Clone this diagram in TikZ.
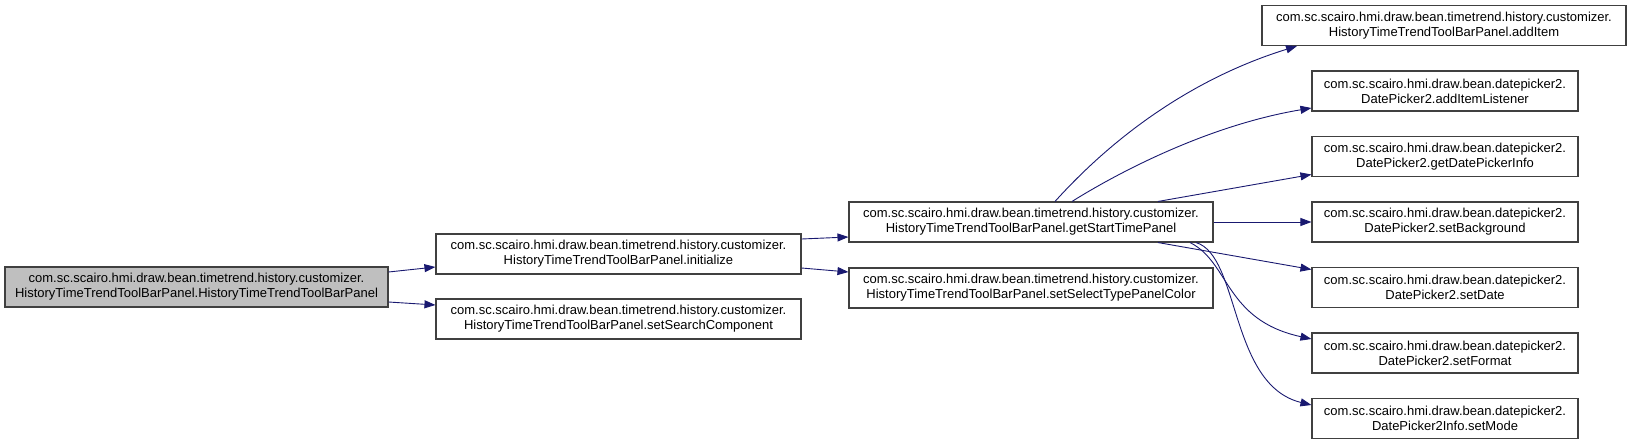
\documentclass[tikz,border=0pt]{standalone}
\usepackage{fontspec}
\setmainfont{Liberation Sans}
\usetikzlibrary{arrows.meta}
\definecolor{edgecol}{HTML}{191970}
\definecolor{boxline}{HTML}{404040}
\definecolor{rootfill}{HTML}{BFBFBF}
\tikzset{
  fn/.style={draw=boxline, line width=1.1pt, fill=white, inner sep=0pt, align=center,
    minimum height=40pt, font=\fontsize{13}{15}\selectfont},
  rootbox/.style={fn, fill=rootfill},
  call/.style={draw=edgecol, line width=0.9pt, -{Triangle[length=11pt,width=8pt]}}
}
\begin{document}
\begin{tikzpicture}[x=1pt,y=-1pt]
\useasboundingbox (0,0) rectangle (1633,444);
\node[rootbox, minimum width=383pt] (A) at (196.5,287) {com.sc.scairo.hmi.draw.bean.timetrend.history.customizer.\\HistoryTimeTrendToolBarPanel.HistoryTimeTrendToolBarPanel};
\node[fn, minimum width=365pt] (B) at (618.5,254) {com.sc.scairo.hmi.draw.bean.timetrend.history.customizer.\\HistoryTimeTrendToolBarPanel.initialize};
\node[fn, minimum width=365pt] (C) at (618.5,319) {com.sc.scairo.hmi.draw.bean.timetrend.history.customizer.\\HistoryTimeTrendToolBarPanel.setSearchComponent};
\node[fn, minimum width=364pt] (D) at (1031,222) {com.sc.scairo.hmi.draw.bean.timetrend.history.customizer.\\HistoryTimeTrendToolBarPanel.getStartTimePanel};
\node[fn, minimum width=364pt] (E) at (1031,288) {com.sc.scairo.hmi.draw.bean.timetrend.history.customizer.\\HistoryTimeTrendToolBarPanel.setSelectTypePanelColor};
\node[fn, minimum width=364pt] (L0) at (1444,25.5) {com.sc.scairo.hmi.draw.bean.timetrend.history.customizer.\\HistoryTimeTrendToolBarPanel.addItem};
\node[fn, minimum width=266pt] (L1) at (1445,91) {com.sc.scairo.hmi.draw.bean.datepicker2.\\DatePicker2.addItemListener};
\node[fn, minimum width=266pt] (L2) at (1445,156.5) {com.sc.scairo.hmi.draw.bean.datepicker2.\\DatePicker2.getDatePickerInfo};
\node[fn, minimum width=266pt] (L3) at (1445,222) {com.sc.scairo.hmi.draw.bean.datepicker2.\\DatePicker2.setBackground};
\node[fn, minimum width=266pt] (L4) at (1445,287.5) {com.sc.scairo.hmi.draw.bean.datepicker2.\\DatePicker2.setDate};
\node[fn, minimum width=266pt] (L5) at (1445,353) {com.sc.scairo.hmi.draw.bean.datepicker2.\\DatePicker2.setFormat};
\node[fn, minimum width=266pt] (L6) at (1445,418.5) {com.sc.scairo.hmi.draw.bean.datepicker2.\\DatePicker2Info.setMode};

\draw[call] ([yshift=15pt]A.east) -- ([yshift=-13pt]B.west);
\draw[call] ([yshift=-15pt]A.east) -- ([yshift=14pt]C.west);
\draw[call] ([yshift=15pt]B.east) -- ([yshift=-15pt]D.west);
\draw[call] ([yshift=-14pt]B.east) -- ([yshift=16pt]E.west);

\draw[call] ([xshift=24pt]D.north) .. controls +(65,-72) and +(-97,30) .. ([xshift=-147pt]L0.south);
\draw[call] ([xshift=41pt]D.north) .. controls +(48,-30) and +(-102,17) .. ([yshift=-17pt]L1.west);
\draw[call] ([xshift=127pt]D.north) -- ([yshift=-18pt]L2.west);
\draw[call] (D.east) -- (L3.west);
\draw[call] ([xshift=127pt]D.south) -- ([yshift=18pt]L4.west);
\draw[call] ([xshift=159pt]D.south) .. controls +(40,20) and +(-87,-19) .. ([yshift=14pt]L5.west);
\draw[call] ([xshift=165pt]D.south) .. controls +(44,13) and +(-82,-20) .. ([yshift=13.5pt]L6.west);
\end{tikzpicture}
\end{document}
